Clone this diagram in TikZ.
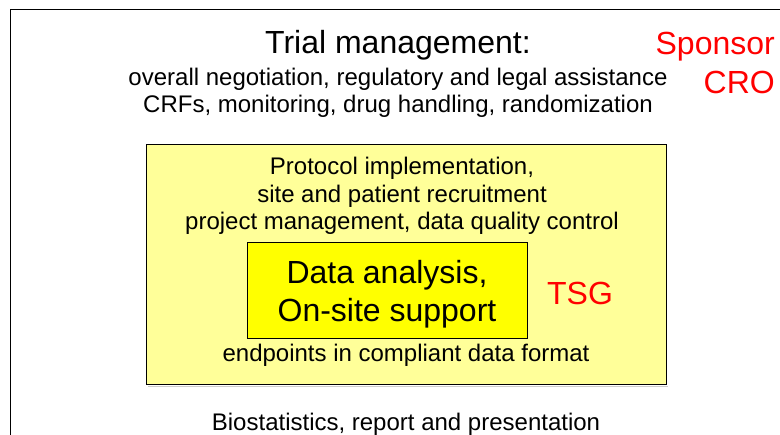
\documentclass[tikz,border=0pt]{standalone}
\usepackage{fontspec}
\setmainfont{Liberation Sans}
\definecolor{lightyel}{HTML}{FFFF99}
\definecolor{brightyel}{HTML}{FFFF00}
\definecolor{redtxt}{HTML}{FF0000}
\begin{document}
\begin{tikzpicture}[x=1pt,y=-1pt,
  txt/.style={inner sep=0pt,align=center,font=\fontsize{24}{27.5}\selectfont},
  big/.style={inner sep=0pt,align=center,font=\fontsize{32}{38.5}\selectfont},
  redlab/.style={big,text=redtxt},
  outerbox/.style={draw=black,line width=1pt,fill=lightyel},
  innerbox/.style={draw=black,line width=0.8pt,fill=brightyel}]
\useasboundingbox (0,0) rectangle (780,435);
\draw[line width=0.8pt] (10.5,435) -- (10.5,9.5) -- (780,9.5);
\node[big] (title) at (398,45) {Trial management:};
\node[txt] (top) at (398,93) {overall negotiation, regulatory and legal assistance\\CRFs, monitoring, drug handling, randomization};
\node[redlab,align=right,anchor=east] (sponsor) at (775,63) {Sponsor\\CRO};
\fill[gray!40] (148,386) rectangle (668,387.5);
\node[outerbox,minimum width=520pt,minimum height=240pt,inner sep=0pt] (outer) at (406,265) {};
\node[txt] (proto) at (402,196) {Protocol implementation,\\site and patient recruitment\\project management, data quality control};
\node[innerbox,minimum width=280pt,minimum height=96pt,inner sep=0pt] (inner) at (387,290) {};
\node[big] (data) at (387,294) {Data analysis,\\On-site support};
\node[redlab] (tsg) at (580,293) {TSG};
\node[txt] (endp) at (406,355) {endpoints in compliant data format};
\node[txt] (bio) at (406,424) {Biostatistics, report and presentation};
\end{tikzpicture}
\end{document}
